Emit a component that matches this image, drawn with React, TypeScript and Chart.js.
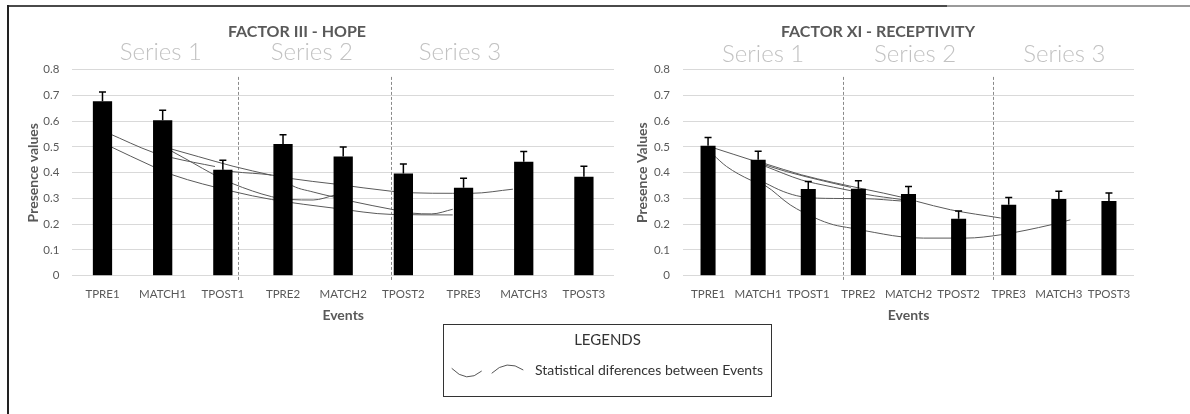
import React, { useEffect, useRef } from "react";
import { Chart, registerables } from "chart.js";

Chart.register(...registerables);

const TXT = "#595959";
const FONT = "Lato, 'Open Sans', 'DejaVu Sans', sans-serif";
Chart.defaults.font.family = FONT;

// ---------- data ----------
const events = ["TPRE1", "MATCH1", "TPOST1", "TPRE2", "MATCH2", "TPOST2", "TPRE3", "MATCH3", "TPOST3"];
const yTickLabels = ["0", "0.1", "0.2", "0.3", "0.4", "0.5", "0.6", "0.7", "0.8"];
const seriesNames = ["Series 1", "Series 2", "Series 3"];

const hopeMeans = [0.677, 0.604, 0.411, 0.511, 0.463, 0.397, 0.342, 0.443, 0.384];
const hopeErrors = [0.036, 0.039, 0.037, 0.036, 0.037, 0.037, 0.036, 0.039, 0.041];
// statistical-difference arcs: [event index, presence value] points
const hopeArcs: number[][][] = [
  [[0.1, 0.553], [0.84, 0.479], [1.16, 0.458], [1.87, 0.424]],
  [[0.1, 0.505], [0.84, 0.424], [1.16, 0.392], [2.17, 0.327], [2.81, 0.296], [3.86, 0.262], [4.8, 0.238], [5.82, 0.236]],
  [[1.1, 0.495], [1.6, 0.462], [2.17, 0.425], [2.81, 0.39]],
  [[1.1, 0.49], [1.45, 0.445], [1.87, 0.39], [2.17, 0.357], [2.81, 0.307], [3.11, 0.296], [3.5, 0.294], [3.86, 0.313]],
  [[2.0, 0.41], [2.17, 0.404], [2.81, 0.391], [3.11, 0.378], [3.86, 0.356], [4.8, 0.328], [5.14, 0.322], [5.82, 0.32], [6.13, 0.32], [6.82, 0.336]],
  [[3.05, 0.37], [3.11, 0.356], [3.5, 0.325], [3.86, 0.305], [4.16, 0.288], [4.8, 0.258], [5.14, 0.243], [5.47, 0.24], [5.82, 0.258]],
];

const receptivityMeans = [0.505, 0.45, 0.337, 0.338, 0.317, 0.221, 0.276, 0.298, 0.29];
const receptivityErrors = [0.032, 0.033, 0.029, 0.031, 0.029, 0.03, 0.028, 0.03, 0.031];
const receptivityArcs: number[][][] = [
  [[0.1, 0.497], [0.5, 0.472], [0.9, 0.447]],
  [[0.1, 0.47], [0.37, 0.424], [0.84, 0.372], [1.14, 0.35], [1.64, 0.275], [2.15, 0.223], [2.5, 0.198], [2.85, 0.185], [3.15, 0.174], [3.86, 0.151], [4.3, 0.146], [5.14, 0.146], [5.84, 0.159], [6.85, 0.198], [7.23, 0.217]],
  [[1.14, 0.36], [1.5, 0.327], [1.86, 0.307], [2.5, 0.3], [3.15, 0.299], [3.86, 0.29]],
  [[1.14, 0.43], [1.57, 0.404], [2.3, 0.368], [2.85, 0.343]],
  [[1.14, 0.425], [1.86, 0.372], [2.15, 0.358], [2.85, 0.33], [3.15, 0.316], [3.86, 0.296]],
  [[1.14, 0.435], [1.86, 0.392], [2.5, 0.362], [3.15, 0.335], [3.86, 0.305], [4.16, 0.289], [4.84, 0.256], [5.84, 0.224]],
];

// ---------- panel layout ----------
type Panel = {
  title: string;
  yTitle: string;
  means: number[];
  errors: number[];
  arcs: number[][][];
  left: number;
  w: number;
  h: number;
  yAxisWidth: number;
  yTitlePad: number;
  padRight: number;
  barPct: number;
  titleX: number;
  titleY: number;
  seriesAt: number[];
  seriesY: number;
  dividers: number[];
};

const panels: Panel[] = [
  {
    title: "FACTOR III - HOPE",
    yTitle: "Presence values",
    means: hopeMeans,
    errors: hopeErrors,
    arcs: hopeArcs,
    left: 0,
    w: 620,
    h: 330,
    yAxisWidth: 72.4,
    yTitlePad: 24.6,
    padRight: 6,
    barPct: 0.32,
    titleX: 297,
    titleY: 31.5,
    seriesAt: [0.97, 3.48, 5.94],
    seriesY: 52,
    dividers: [2.26, 4.8],
  },
  {
    title: "FACTOR XI - RECEPTIVITY",
    yTitle: "Presence Values",
    means: receptivityMeans,
    errors: receptivityErrors,
    arcs: receptivityArcs,
    left: 590,
    w: 560,
    h: 330,
    yAxisWidth: 93,
    yTitlePad: 43.6,
    padRight: 16,
    barPct: 0.3,
    titleX: 288,
    titleY: 31.5,
    seriesAt: [1.1, 4.13, 7.11],
    seriesY: 54,
    dividers: [2.69, 5.69],
  },
];

const overlayPlugin = {
  id: "overlay",
  beforeDatasetsDraw(chart: any, _a: any, o: any) {
    const { ctx, chartArea, scales } = chart;
    const xl = scales.xl;
    const y = scales.y;
    ctx.save();
    ctx.strokeStyle = "#8a8a8a";
    ctx.lineWidth = 1;
    ctx.setLineDash([3, 2]);
    (o.dividers as number[]).forEach((d) => {
      const px = Math.round(xl.getPixelForValue(d)) + 0.5;
      ctx.beginPath();
      ctx.moveTo(px, y.getPixelForValue(0.772));
      ctx.lineTo(px, chartArea.bottom + 6);
      ctx.stroke();
    });
    ctx.restore();
  },
  afterDatasetsDraw(chart: any, _a: any, o: any) {
    const { ctx, scales } = chart;
    const y = scales.y;
    const meta = chart.getDatasetMeta(0);
    const means = o.means as number[];
    const errors = o.errors as number[];
    ctx.save();
    ctx.strokeStyle = "#000";
    ctx.lineWidth = 1.5;
    meta.data.forEach((el: any, i: number) => {
      const x = el.x;
      const y0 = y.getPixelForValue(means[i]);
      const y1 = y.getPixelForValue(means[i] + errors[i]);
      ctx.beginPath();
      ctx.moveTo(x, y0);
      ctx.lineTo(x, y1);
      ctx.moveTo(x - 3.5, y1);
      ctx.lineTo(x + 3.5, y1);
      ctx.stroke();
    });
    ctx.restore();
  },
  afterDraw(chart: any, _a: any, o: any) {
    const { ctx, scales } = chart;
    const xl = scales.xl;
    ctx.save();
    ctx.textAlign = "center";
    ctx.textBaseline = "middle";
    ctx.fillStyle = TXT;
    ctx.font = `bold 16px ${FONT}`;
    ctx.fillText(o.title, o.titleX, o.titleY);
    ctx.fillStyle = "#c2c2c2";
    ctx.font = `300 24px ${FONT}`;
    (o.seriesAt as number[]).forEach((v, k) => {
      ctx.fillText(seriesNames[k], xl.getPixelForValue(v), o.seriesY);
    });
    ctx.restore();
  },
};

function buildConfig(p: Panel): any {
  const datasets: any[] = [
    {
      type: "bar",
      data: p.means,
      backgroundColor: "#000",
      borderWidth: 0,
      grouped: false,
      barPercentage: p.barPct,
      categoryPercentage: 1,
      order: 0,
    },
    ...p.arcs.map((arc) => ({
      type: "line",
      xAxisID: "xl",
      yAxisID: "y",
      data: arc.map(([x, v]) => ({ x, y: v })),
      borderColor: "#5a5a5a",
      borderWidth: 1,
      pointRadius: 0,
      cubicInterpolationMode: "monotone",
      fill: false,
      order: 5,
    })),
  ];
  return {
    type: "bar",
    data: { labels: events, datasets },
    plugins: [overlayPlugin],
    options: {
      responsive: false,
      animation: false,
      events: [],
      layout: { padding: { top: 69.7, right: p.padRight, bottom: 0, left: 0 } },
      plugins: {
        legend: { display: false },
        tooltip: { enabled: false },
        title: { display: false },
        overlay: {
          title: p.title,
          titleX: p.titleX,
          titleY: p.titleY,
          seriesAt: p.seriesAt,
          seriesY: p.seriesY,
          dividers: p.dividers,
          means: p.means,
          errors: p.errors,
        },
      },
      scales: {
        x: {
          type: "category",
          offset: true,
          grid: { display: false, drawTicks: false },
          border: { display: false },
          ticks: {
            color: TXT,
            font: { size: 11.5 },
            padding: 11.4,
            maxRotation: 0,
            minRotation: 0,
            autoSkip: false,
          },
          title: {
            display: true,
            text: "Events",
            color: TXT,
            font: { size: 14, weight: "bold" },
            padding: { top: 0, bottom: 6.6 },
          },
          afterFit: (s: any) => {
            s.height = 54.3;
          },
        },
        xl: {
          type: "linear",
          display: false,
          offset: false,
          bounds: "data",
          grid: { offset: false },
          min: -0.5,
          max: 8.5,
          position: "bottom",
        },
        y: {
          min: 0,
          max: 0.8,
          grid: { color: "#d9d9d9", drawTicks: false, lineWidth: 1 },
          border: { display: false },
          ticks: {
            stepSize: 0.1,
            color: TXT,
            font: { size: 11.5 },
            padding: 13,
            callback: (_v: any, i: number) => yTickLabels[i],
          },
          title: {
            display: true,
            text: p.yTitle,
            color: TXT,
            font: { size: 14, weight: "bold" },
            padding: { top: p.yTitlePad, bottom: 0 },
          },
          afterFit: (s: any) => {
            s.width = p.yAxisWidth;
          },
        },
      },
    },
  };
}

function PanelChart({ panel }: { panel: Panel }) {
  const ref = useRef<HTMLCanvasElement>(null);
  useEffect(() => {
    const chart = new Chart(ref.current as HTMLCanvasElement, buildConfig(panel));
    return () => chart.destroy();
  }, [panel]);
  return (
    <canvas
      ref={ref}
      width={panel.w}
      height={panel.h}
      style={{ position: "absolute", left: panel.left, top: 0, width: panel.w, height: panel.h }}
    />
  );
}

export default function App() {
  return (
    <div
      style={{
        position: "absolute",
        left: 0,
        top: 0,
        width: 1190,
        height: 414,
        overflow: "hidden",
        background: "#fff",
        fontFamily: FONT,
      }}
    >
      {/* frame lines */}
      <div style={{ position: "absolute", left: 7, top: 5, width: 940, height: 2, background: "#4a4a4a" }} />
      <div style={{ position: "absolute", left: 947, top: 5, width: 243, height: 2, background: "#9a9a9a" }} />
      <div style={{ position: "absolute", left: 7, top: 5, width: 2, height: 409, background: "#222" }} />

      {panels.map((p, i) => (
        <PanelChart key={i} panel={p} />
      ))}

      {/* legend box */}
      <div
        style={{
          position: "absolute",
          left: 443,
          top: 324,
          width: 329,
          height: 73,
          border: "1px solid #333",
          boxSizing: "border-box",
        }}
      />
      <div
        style={{
          position: "absolute",
          left: 443,
          top: 329.5,
          width: 329,
          textAlign: "center",
          fontSize: 15,
          lineHeight: "18px",
          color: "#333",
        }}
      >
        LEGENDS
      </div>
      <svg
        style={{ position: "absolute", left: 440, top: 355 }}
        width={100}
        height={30}
        viewBox="440 355 100 30"
      >
        <path d="M 451.7 368.3 Q 466.7 384 481.7 371" fill="none" stroke="#555" strokeWidth={1} />
        <path d="M 491.7 373.3 Q 506.7 358.5 523.3 370" fill="none" stroke="#555" strokeWidth={1} />
      </svg>
      <div
        style={{
          position: "absolute",
          left: 535,
          top: 362,
          fontSize: 14,
          lineHeight: "16.8px",
          color: "#333",
          whiteSpace: "nowrap",
        }}
      >
        Statistical diferences between Events
      </div>
    </div>
  );
}
